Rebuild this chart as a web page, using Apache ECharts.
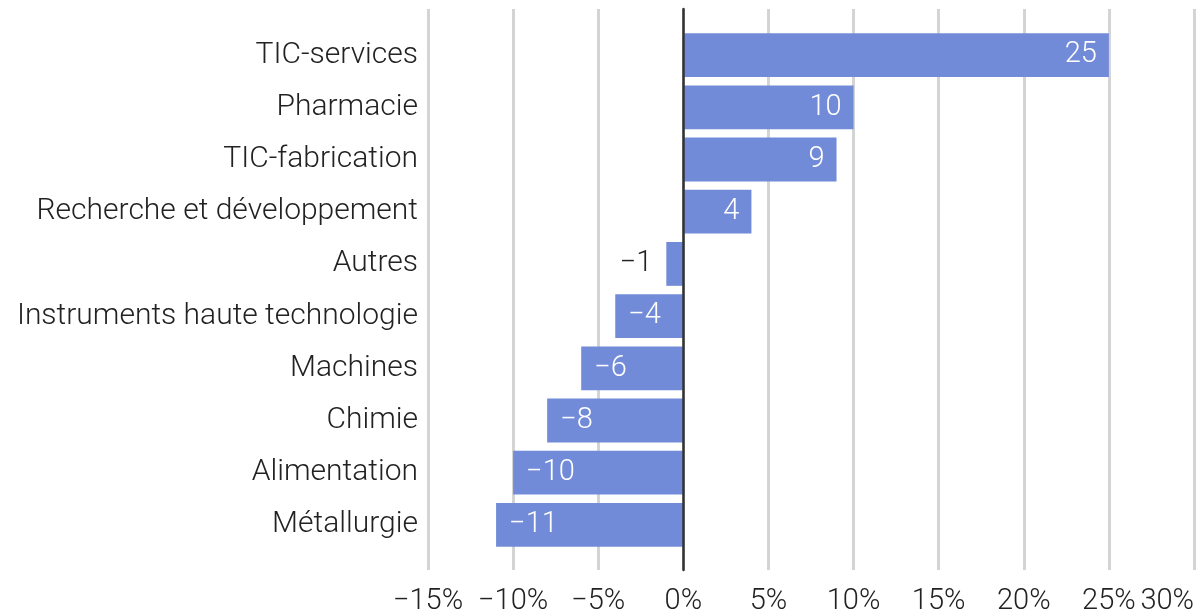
<!DOCTYPE html>
<html><head><meta charset="utf-8">
<script src="https://cdn.jsdelivr.net/npm/echarts@6/dist/echarts.min.js"></script>
<style>html,body{margin:0;padding:0;background:#fff}#c{width:1201px;height:616px}</style>
</head><body><div id="c"></div>
<script>
const categories = ["TIC-services","Pharmacie","TIC-fabrication","Recherche et développement","Autres","Instruments haute technologie","Machines","Chimie","Alimentation","Métallurgie"];
const values = [25,10,9,4,-1,-4,-6,-8,-10,-11];
const tickMin = -15, tickMax = 30, tickStep = 5;

const fmt = v => (v < 0 ? '\u2212' + Math.abs(v) : String(v));
const font = 'Roboto';
const chart = echarts.init(document.getElementById('c'));
const data = values.map((v, i) => {
  const d = { value: v };
  if (v < 0 && v > -2) {
    d.label = { position: 'left', distance: 14, color: '#222' };
  } else if (v < 0) {
    d.label = { position: 'insideLeft', distance: 13 };
  }
  return d;
});
chart.setOption({
  animation: false,
  grid: [
    { left: 428, right: 7, top: 9, bottom: 44 },
    { left: 428, right: 7, top: 29, bottom: 65 }
  ],
  xAxis: [
    { gridIndex: 0, type: 'value', min: tickMin, max: tickMax, interval: tickStep,
      axisLine: { show: false }, axisTick: { show: false },
      splitLine: { show: true, lineStyle: { color: '#d4d4d4', width: 3 } },
      axisLabel: { formatter: v => fmt(v) + '%', fontFamily: font, fontWeight: 300, fontSize: 29, color: '#222', margin: 17, alignMaxLabel: 'right' } },
    { gridIndex: 1, type: 'value', min: tickMin, max: tickMax, interval: tickStep, show: false }
  ],
  yAxis: [
    { gridIndex: 0, type: 'category', data: [''], axisTick: { show: false }, axisLabel: { show: false },
      axisLine: { show: true, onZero: true, lineStyle: { color: '#333', width: 2.5 } }, z: 5 },
    { gridIndex: 1, type: 'category', data: categories, inverse: true,
      axisLine: { show: false }, axisTick: { show: false },
      axisLabel: { fontFamily: font, fontWeight: 300, fontSize: 30, color: '#222', margin: 10 } }
  ],
  series: [{
    type: 'bar', xAxisIndex: 1, yAxisIndex: 1, data: data,
    barCategoryGap: '16%',
    itemStyle: { color: '#728bd8' },
    label: { show: true, position: 'insideRight', distance: 12, formatter: p => fmt(p.value),
      fontFamily: font, fontWeight: 300, fontSize: 29, color: '#fff' },
    z: 3
  }]
});
</script></body></html>
